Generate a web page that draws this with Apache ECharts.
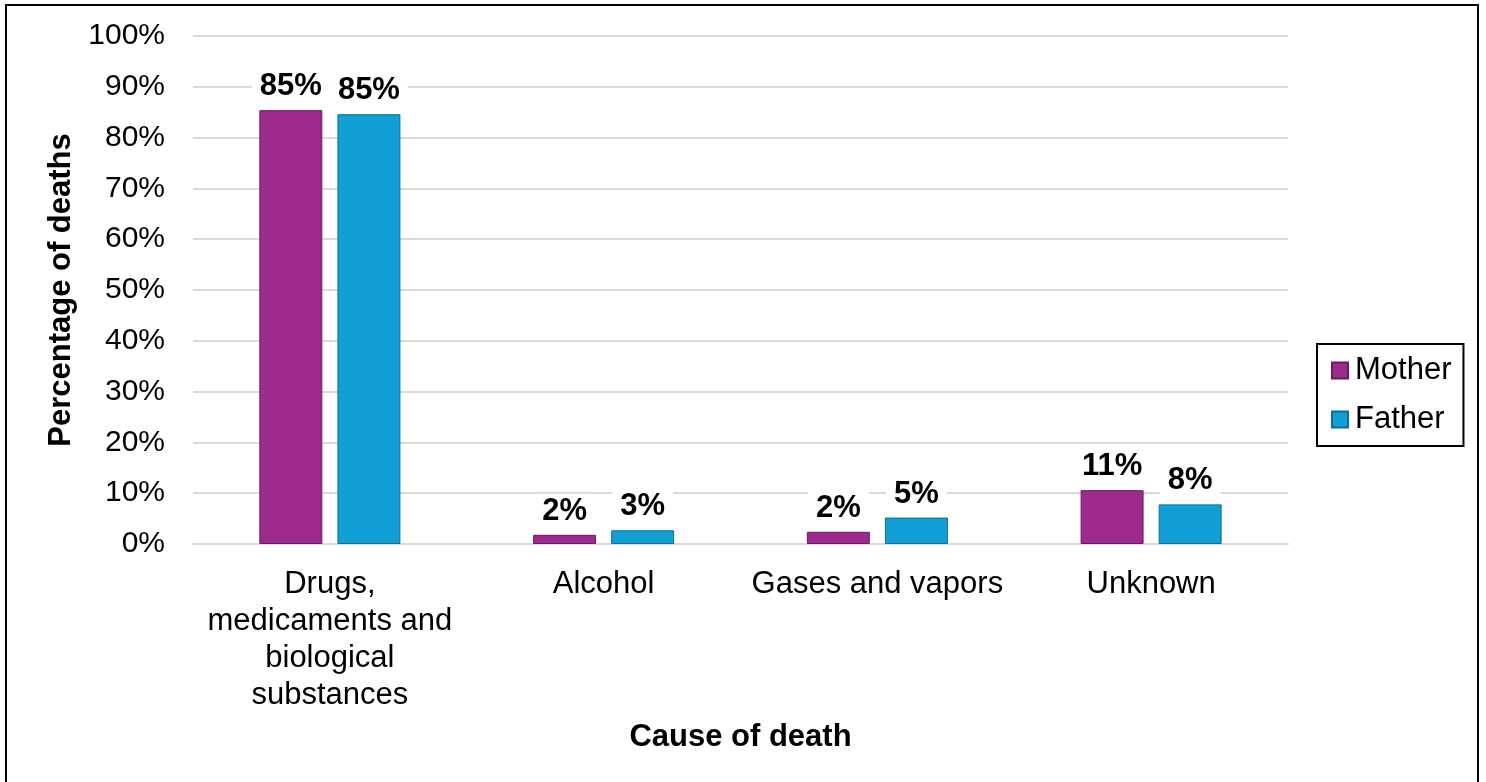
<!DOCTYPE html>
<html>
<head>
<meta charset="utf-8">
<script src="https://cdn.jsdelivr.net/npm/echarts@6/dist/echarts.min.js"></script>
<style>
  html, body { margin: 0; padding: 0; background: #fff; }
  #frame { position: absolute; left: 5px; top: 4px; width: 1474px; height: 790px; border: 2px solid #000; box-sizing: border-box; }
  #chart { position: absolute; left: 0; top: 0; width: 1486px; height: 782px; }
</style>
</head>
<body>
<div id="frame"></div>
<div id="chart"></div>
<script>
const categories = ["Drugs,\nmedicaments and\nbiological\nsubstances", "Alcohol", "Gases and vapors", "Unknown"];
const seriesNames = ["Mother", "Father"];
const motherValues = [85.4, 1.8, 2.4, 10.6];
const fatherValues = [84.6, 2.7, 5.2, 7.8];
const yTicks = [0, 10, 20, 30, 40, 50, 60, 70, 80, 90, 100];

const FONT = 'Arial, "Liberation Sans", sans-serif';
const chart = echarts.init(document.getElementById('chart'), null, { renderer: 'canvas' });

const labelCfg = {
  show: true,
  position: 'top',
  distance: 6,
  formatter: p => Math.round(p.value) + '%',
  fontFamily: FONT,
  fontSize: 31,
  fontWeight: 'bold',
  color: '#000',
  backgroundColor: '#fff',
  padding: [2, 8, 2, 8]
};

chart.setOption({
  animation: false,
  grid: { left: 193, right: 198, top: 36, bottom: 238, containLabel: false },
  legend: {
    orient: 'vertical',
    left: 1317,
    top: 344,
    width: 149,
    data: seriesNames,
    itemWidth: 16,
    itemHeight: 16,
    itemGap: 18,
    padding: [11, 12, 11, 14],
    borderColor: '#000',
    borderWidth: 2,
    icon: 'rect',
    textStyle: { fontFamily: FONT, fontSize: 31, color: '#000', padding: [0, 0, 0, 2] }
  },
  xAxis: {
    type: 'category',
    data: categories,
    name: 'Cause of death',
    nameLocation: 'middle',
    nameGap: 178,
    nameTextStyle: { fontFamily: FONT, fontSize: 31, fontWeight: 'bold', color: '#000' },
    axisLine: { lineStyle: { color: '#d9d9d9', width: 2 } },
    axisTick: { show: false },
    axisLabel: { fontFamily: FONT, fontSize: 31, color: '#000', lineHeight: 37, margin: 22, interval: 0 }
  },
  yAxis: {
    type: 'value',
    min: 0,
    max: 100,
    interval: 10,
    name: 'Percentage of deaths',
    nameLocation: 'middle',
    nameGap: 116,
    nameTextStyle: { fontFamily: FONT, fontSize: 31, fontWeight: 'bold', color: '#000' },
    axisLine: { show: false },
    axisTick: { show: false },
    axisLabel: {
      fontFamily: FONT, fontSize: 30, color: '#000', margin: 28,
      padding: [4, 0, 0, 0],
      formatter: v => (yTicks.indexOf(v) >= 0 ? v + '%' : '')
    },
    splitLine: { lineStyle: { color: '#d9d9d9', width: 2 } }
  },
  series: [
    {
      name: seriesNames[0],
      type: 'bar',
      data: motherValues,
      barWidth: '23%',
      barGap: '24%',
      itemStyle: { color: '#9e2a8e', borderColor: '#6a1a5e', borderWidth: 1 },
      label: labelCfg
    },
    {
      name: seriesNames[1],
      type: 'bar',
      data: fatherValues,
      barWidth: '23%',
      itemStyle: { color: '#119fd6', borderColor: '#0b6f96', borderWidth: 1 },
      label: labelCfg
    }
  ]
});
</script>
</body>
</html>
